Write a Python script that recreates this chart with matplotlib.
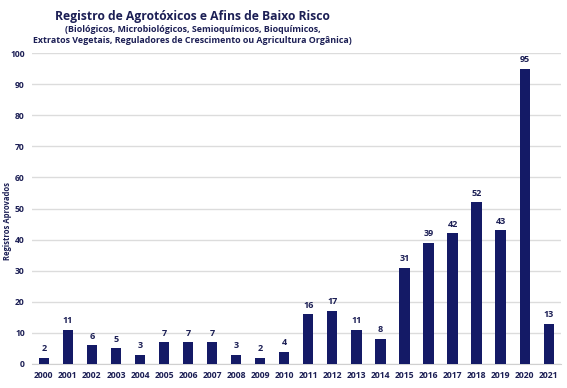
import matplotlib
matplotlib.use("Agg")
import matplotlib.pyplot as plt

# data
years = [str(y) for y in range(2000, 2022)]
registros = [2, 11, 6, 5, 3, 7, 7, 7, 3, 2, 4, 16, 17, 11, 8, 31, 39, 42, 52, 43, 95, 13]

NAVY = "#141a66"
TXT = "#1c1f55"

plt.rcParams["font.family"] = ["Open Sans", "DejaVu Sans"]

fig = plt.figure(figsize=(5.67, 3.88), dpi=100)
ax = fig.add_axes([0.056, 0.062, 0.933, 0.801])

x = range(len(years))
ax.bar(x, registros, width=0.43, color=NAVY, zorder=3)
for xi, v in zip(x, registros):
    ax.text(xi, v + 1.5, str(v), ha="center", va="bottom", fontsize=6.5,
            fontweight="bold", color=TXT)

ax.set_xlim(-0.5, len(years) - 0.5)
ax.set_ylim(0, 100)
ax.set_yticks(range(0, 101, 10))
ax.set_xticks(list(x))
ax.set_xticklabels(years)
ax.tick_params(axis="both", length=0, labelsize=6.2, colors=TXT)
for lab in ax.get_xticklabels() + ax.get_yticklabels():
    lab.set_fontweight("bold")
ax.tick_params(axis="y", pad=5)
ax.tick_params(axis="x", pad=5)
ax.grid(axis="y", color="#dcdcdc", linewidth=1.0, zorder=0)
for s in ["top", "right", "left"]:
    ax.spines[s].set_visible(False)
ax.spines["bottom"].set_color("#d0d0d0")

fig.text(0.006, 0.43, "Registros Aprovados", rotation=90, ha="left", va="center",
         fontsize=5.5, fontweight="bold", color=TXT)

fig.text(0.34, 0.958, "Registro de Agrotóxicos e Afins de Baixo Risco",
         ha="center", va="center", fontsize=8.7, fontweight="bold", color=TXT)
fig.text(0.34, 0.924, "(Biológicos, Microbiológicos, Semioquímicos, Bioquímicos,",
         ha="center", va="center", fontsize=6.4, fontweight="bold", color=TXT)
fig.text(0.34, 0.896, "Extratos Vegetais, Reguladores de Crescimento ou Agricultura Orgânica)",
         ha="center", va="center", fontsize=6.4, fontweight="bold", color=TXT)

fig.savefig("out.png", dpi=100)
